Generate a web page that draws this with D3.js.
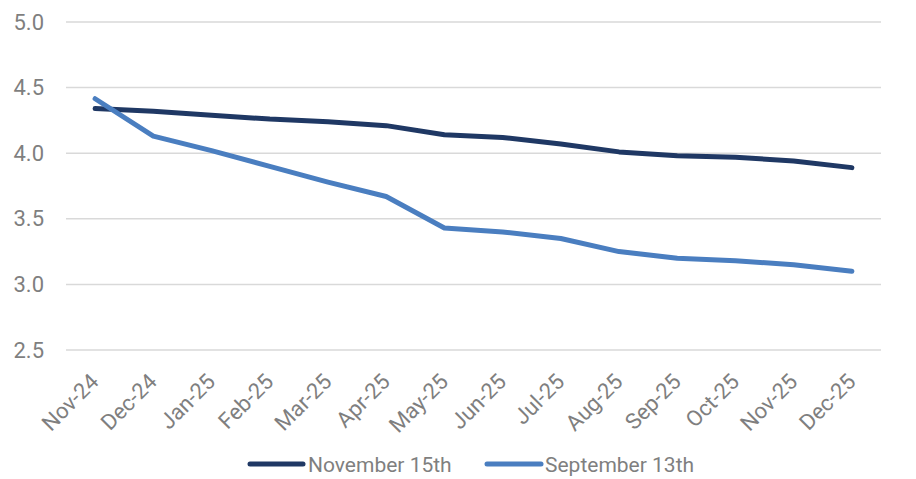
<!DOCTYPE html>
<html><head><meta charset="utf-8">
<script src="https://cdn.jsdelivr.net/npm/d3@7"></script>
<style>body{margin:0;background:#fff}svg{display:block;font-family:Roboto,sans-serif}</style>
</head><body><svg id="c" width="916" height="479"></svg>
<script>
const categories = ["Nov-24","Dec-24","Jan-25","Feb-25","Mar-25","Apr-25","May-25","Jun-25","Jul-25","Aug-25","Sep-25","Oct-25","Nov-25","Dec-25"];
const november15 = [4.34,4.32,4.29,4.26,4.24,4.21,4.14,4.12,4.07,4.01,3.98,3.97,3.94,3.89];
const september13 = [4.415,4.13,4.02,3.90,3.78,3.67,3.43,3.40,3.35,3.25,3.20,3.18,3.15,3.10];
const yTicks = [2.5,3.0,3.5,4.0,4.5,5.0];
const seriesNames = ["November 15th","September 13th"];
const colors = ["#1F3864","#4A7EC0"];

(function () {
const svg = d3.select("#c");
const pLeft = 66, pRight = 881, pTop = 22, pBottom = 350;
const x = d3.scaleBand().domain(categories).range([pLeft, pRight]);
const y = d3.scaleLinear().domain([2.5, 5.0]).range([pBottom, pTop]);
const grey = "#7F7F7F";

// gridlines
svg.append("g").selectAll("line").data(yTicks).join("line")
  .attr("x1", pLeft).attr("x2", pRight)
  .attr("y1", d => y(d)).attr("y2", d => y(d))
  .attr("stroke", "#D9D9D9").attr("stroke-width", 1.5);

// y axis labels
const yAxis = d3.axisLeft(y).tickValues(yTicks).tickFormat(d3.format(".1f")).tickSize(0).tickPadding(0);
const gy = svg.append("g").attr("transform", "translate(44,0)").call(yAxis);
gy.select(".domain").remove();
gy.selectAll("text").attr("fill", grey).style("font-size", "22px").style("font-family", "Roboto");

// x axis labels
const xAxis = d3.axisBottom(x).tickSize(0).tickPadding(0);
const gx = svg.append("g").attr("transform", `translate(0,${pBottom})`).call(xAxis);
gx.select(".domain").remove();
gx.selectAll("text")
  .attr("fill", grey).style("font-size", "22px").style("font-family", "Roboto")
  .attr("text-anchor", "end").attr("dy", null).attr("y", 0)
  .attr("transform", "translate(5,33) rotate(-45)");

// lines
const line = d3.line().x((d, i) => x(categories[i]) + x.bandwidth() / 2).y(d => y(d));
[november15, september13].forEach((s, i) => {
  svg.append("path").datum(s).attr("d", line)
    .attr("fill", "none").attr("stroke", colors[i]).attr("stroke-width", 5)
    .attr("stroke-linecap", "round").attr("stroke-linejoin", "round");
});

// legend
const legendItems = [{x0: 250, x1: 303, tx: 308}, {x0: 487, x1: 541, tx: 545}];
seriesNames.forEach((n, i) => {
  const it = legendItems[i];
  svg.append("line").attr("x1", it.x0).attr("x2", it.x1).attr("y1", 464).attr("y2", 464)
    .attr("stroke", colors[i]).attr("stroke-width", 5).attr("stroke-linecap", "round");
  svg.append("text").attr("x", it.tx).attr("y", 472).text(n)
    .attr("fill", grey).style("font-size", "21px").style("font-family", "Roboto");
});
})();
</script></body></html>
